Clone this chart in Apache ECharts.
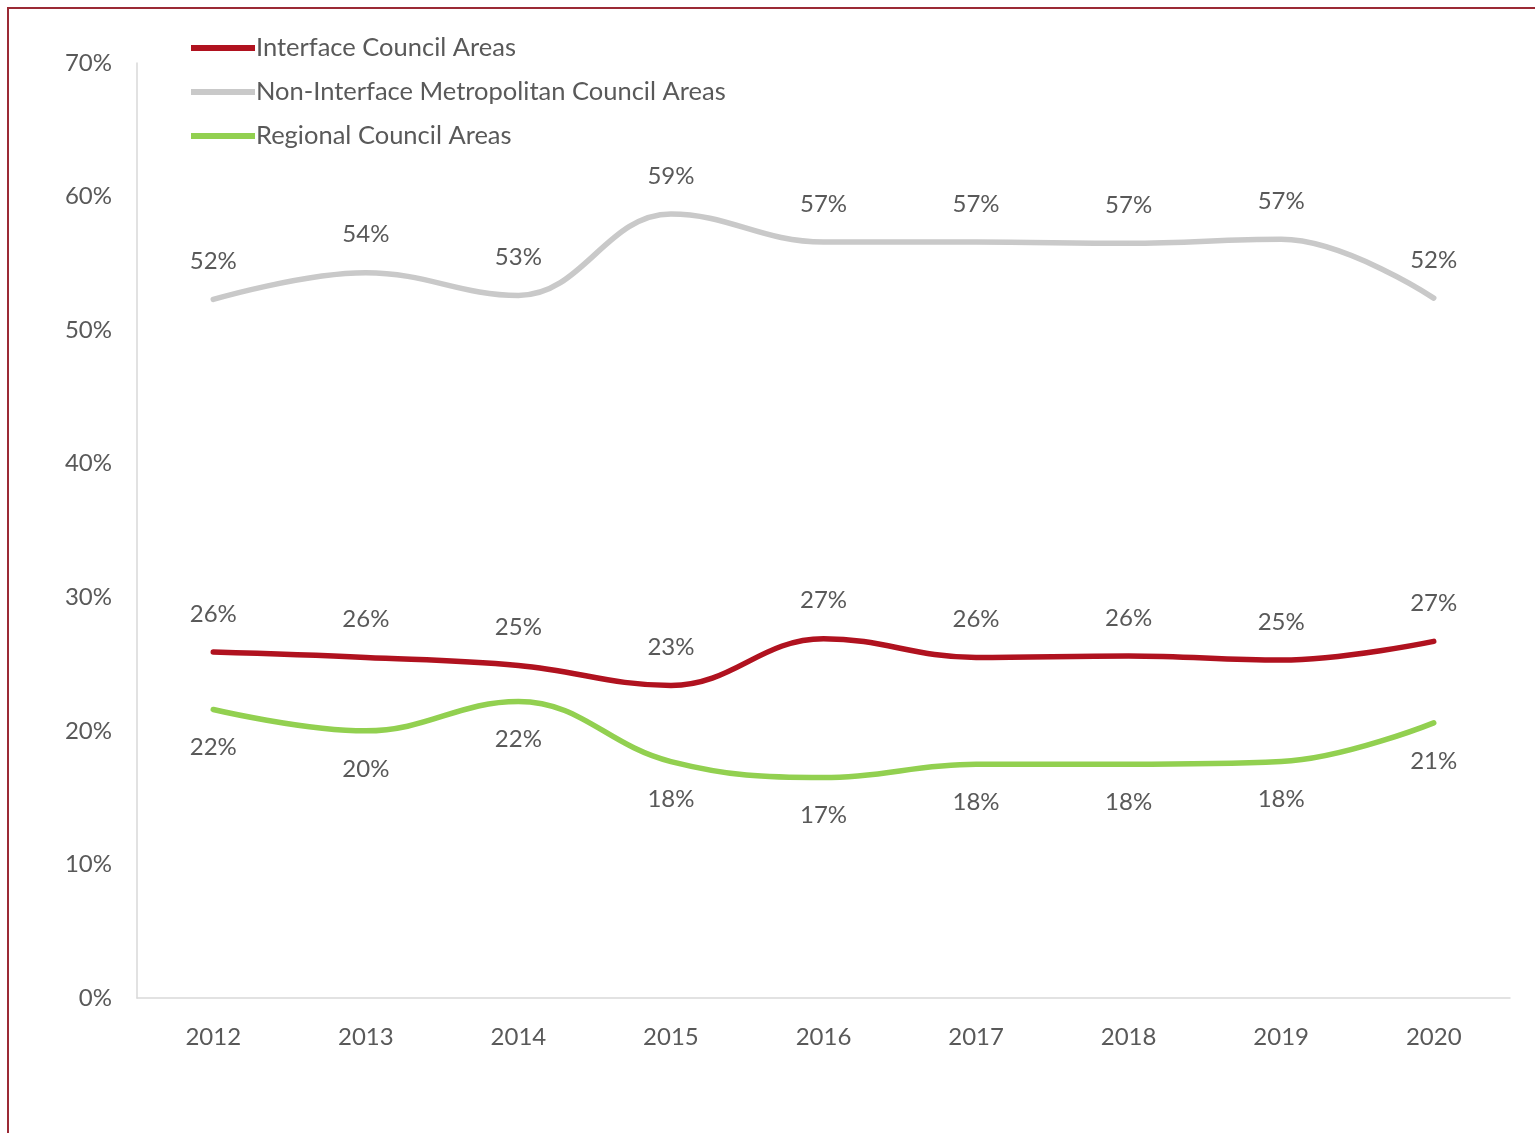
<!DOCTYPE html>
<html>
<head>
<meta charset="utf-8">
<script src="https://cdn.jsdelivr.net/npm/echarts@6/dist/echarts.min.js"></script>
<style>
  html, body { margin: 0; padding: 0; background: #fff; }
  #frame { position: absolute; left: 7px; top: 7px; width: 1528px; height: 1126px; border-left: 2px solid #9b2a35; border-top: 2px solid #9b2a35; box-sizing: border-box; }
  #chart { position: absolute; left: 0; top: 0; width: 1535px; height: 1133px; }
</style>
</head>
<body>
<div id="frame"></div>
<div id="chart"></div>
<script>
const years = ['2012','2013','2014','2015','2016','2017','2018','2019','2020'];
const interfaceAreas = [25.9, 25.5, 24.9, 23.4, 26.9, 25.5, 25.6, 25.3, 26.7];
const nonInterfaceMetro = [52.3, 54.3, 52.6, 58.7, 56.6, 56.6, 56.5, 56.8, 52.4];
const regionalAreas = [21.6, 20.0, 22.2, 17.7, 16.5, 17.5, 17.5, 17.7, 20.6];
const yTicks = { min: 0, max: 70, interval: 10 };

const font = 'Lato, "Open Sans", sans-serif';
const textColor = '#595959';

function mkSeries(name, data, color, pos) {
  return {
    name: name, type: 'line', data: data, smooth: 0.4,
    symbol: 'circle', symbolSize: 2, showSymbol: true,
    lineStyle: { width: 5.5, color: color, cap: 'round' },
    itemStyle: { color: color },
    label: {
      show: true, position: pos, distance: 25,
      formatter: p => Math.round(p.value) + '%',
      color: textColor, fontFamily: font, fontSize: 24
    },
    labelLayout: { hideOverlap: false },
    emphasis: { disabled: true }
  };
}

const chart = echarts.init(document.getElementById('chart'), null, { renderer: 'canvas' });
chart.setOption({
  animation: false,
  backgroundColor: 'transparent',
  grid: { left: 137, right: 25, top: 63, bottom: 135, containLabel: false },
  legend: {
    orient: 'vertical', left: 186, top: 30, itemGap: 18,
    itemWidth: 64, itemHeight: 22,
    textStyle: { color: textColor, fontFamily: font, fontSize: 25.5, padding: [0,0,0,-4] },
    data: [
      { name: 'Interface Council Areas', icon: 'path://M0,10 L64,10 L64,16 L0,16 Z' },
      { name: 'Non-Interface Metropolitan Council Areas', icon: 'path://M0,10 L64,10 L64,16 L0,16 Z' },
      { name: 'Regional Council Areas', icon: 'path://M0,10 L64,10 L64,16 L0,16 Z' }
    ]
  },
  xAxis: {
    type: 'category', data: years, boundaryGap: true,
    axisLine: { show: true, lineStyle: { color: '#d9d9d9', width: 1.5 } },
    axisTick: { show: false },
    axisLabel: { color: textColor, fontFamily: font, fontSize: 24, margin: 27 }
  },
  yAxis: {
    type: 'value', min: yTicks.min, max: yTicks.max, interval: yTicks.interval,
    axisLine: { show: true, lineStyle: { color: '#d9d9d9', width: 1.5 } },
    axisTick: { show: false },
    splitLine: { show: false },
    axisLabel: { color: textColor, fontFamily: font, fontSize: 24, margin: 25, formatter: v => v + '%' }
  },
  series: [
    mkSeries('Interface Council Areas', interfaceAreas, '#b0121f', 'top'),
    mkSeries('Non-Interface Metropolitan Council Areas', nonInterfaceMetro, '#c9c9c9', 'top'),
    mkSeries('Regional Council Areas', regionalAreas, '#92d050', 'bottom')
  ]
});
</script>
</body>
</html>
